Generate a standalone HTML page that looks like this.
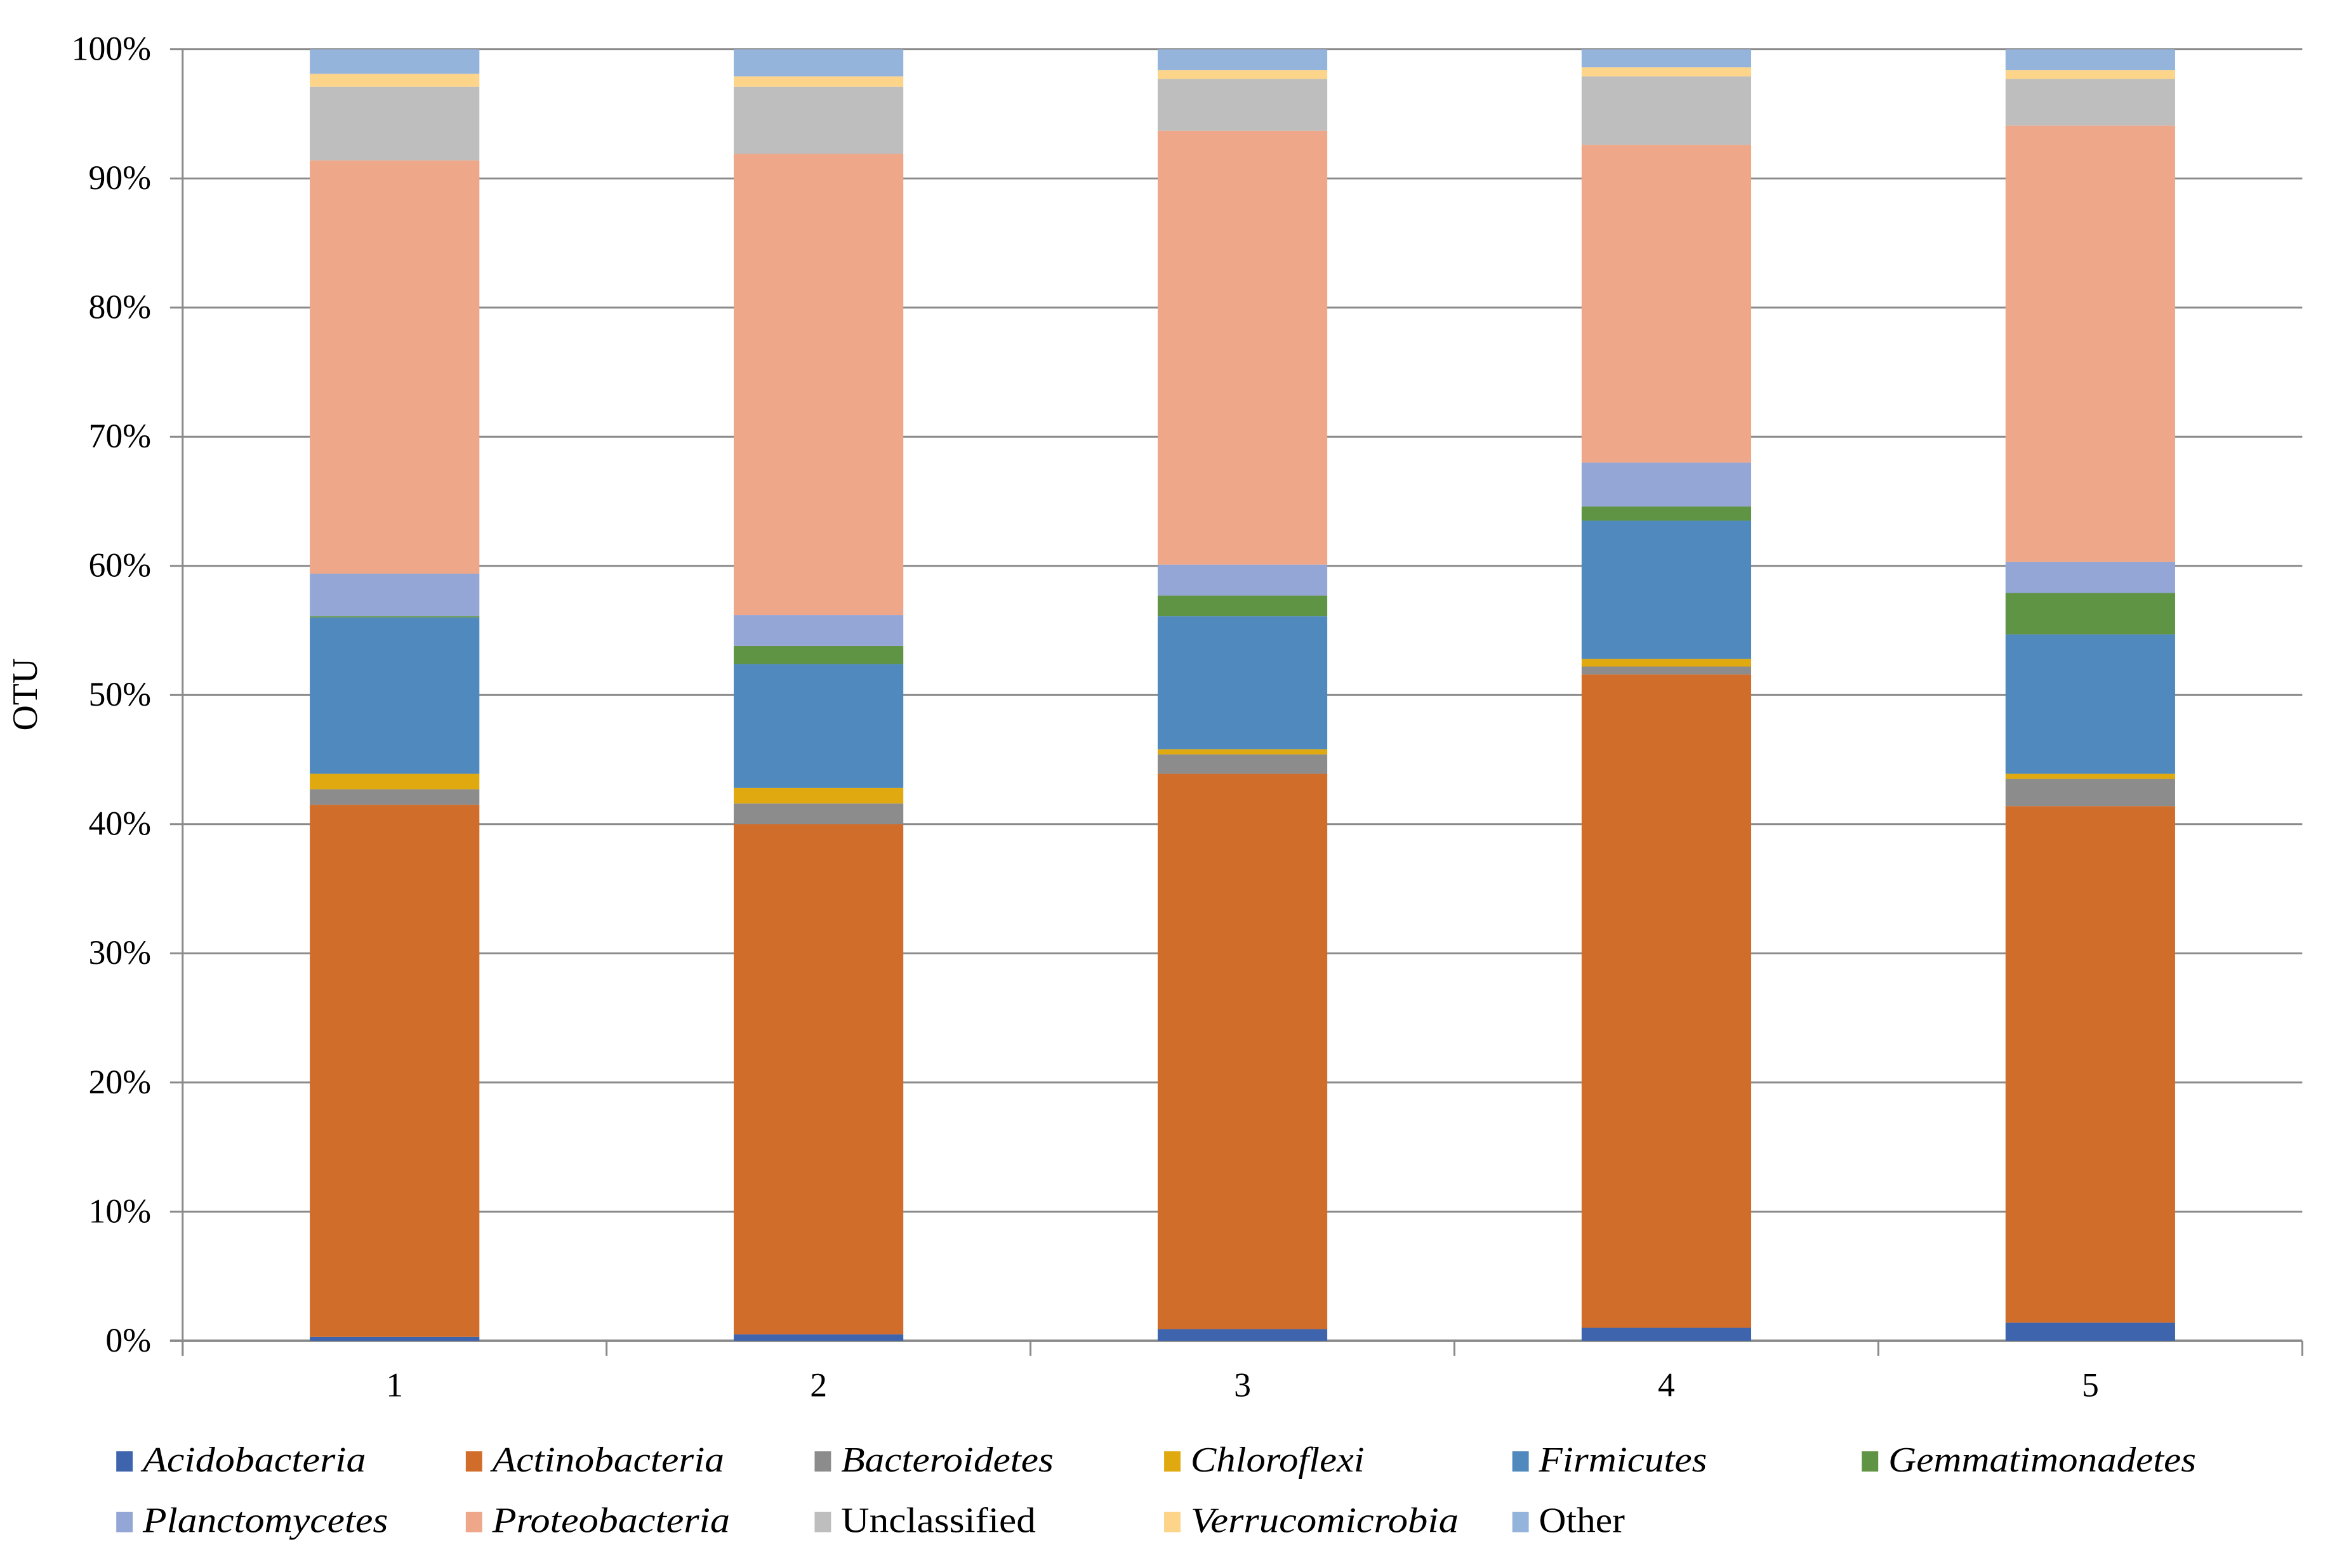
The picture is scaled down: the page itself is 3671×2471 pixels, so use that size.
<!DOCTYPE html>
<html><head><meta charset="utf-8"><style>
html,body{margin:0;padding:0;background:#fff;}
svg{display:block;font-family:"Liberation Serif",serif;}
</style></head><body>
<svg id="chart" width="3671" height="2471" viewBox="0 0 3671 2471" xmlns="http://www.w3.org/2000/svg">
<g transform="scale(0.9957)">
<g id="grid"></g>
<g id="bars"></g>
<g id="axes"></g>
<text x="0" y="0" transform="translate(58,1099) rotate(-90)" text-anchor="middle" font-size="56" fill="#000">OTU</text>
<g id="legend"></g>
</g>
</svg>
<script>
const categories = ["1","2","3","4","5"];
const seriesNames = ["Acidobacteria","Actinobacteria","Bacteroidetes","Chloroflexi","Firmicutes","Gemmatimonadetes","Planctomycetes","Proteobacteria","Unclassified","Verrucomicrobia","Other"];
const seriesItalic = [true,true,true,true,true,true,true,true,false,true,false];
const colors = ["#3d64ad","#d16d2a","#8c8c8c","#e0a90f","#4f89bd","#5f9444","#94a6d6","#eea788","#bebebe","#fcd48a","#95b4dc"];
const acidobacteria   = [0.3,0.5,0.9,1.0,1.4];
const actinobacteria  = [41.2,39.5,43.0,50.6,40.0];
const bacteroidetes   = [1.2,1.6,1.5,0.6,2.1];
const chloroflexi     = [1.2,1.2,0.4,0.6,0.4];
const firmicutes      = [12.1,9.6,10.3,10.7,10.8];
const gemmatimonadetes= [0.1,1.4,1.6,1.1,3.2];
const planctomycetes  = [3.3,2.4,2.4,3.4,2.4];
const proteobacteria  = [32.0,35.7,33.6,24.6,33.8];
const unclassified    = [5.7,5.2,4.0,5.3,3.6];
const verrucomicrobia = [1.0,0.8,0.7,0.7,0.7];
const other           = [1.9,2.1,1.6,1.4,1.6];
const yTicks = [0,10,20,30,40,50,60,70,80,90,100];
const yTickLabels = ["0%","10%","20%","30%","40%","50%","60%","70%","80%","90%","100%"];
const series = [acidobacteria,actinobacteria,bacteroidetes,chloroflexi,firmicutes,gemmatimonadetes,planctomycetes,proteobacteria,unclassified,verrucomicrobia,other];
const legendWidths = [353,367,336,275,266,487,388,376,308,424,136];

const NS="http://www.w3.org/2000/svg";
const L=289,R=3643,T=78,B=2122;
const catW=(R-L)/categories.length, barW=catW*0.4;
function y(v){return B-(v/100)*(B-T);}
function xc(i){return L+catW*(i+0.5);}
function mk(tag,attrs,parent){const e=document.createElementNS(NS,tag);for(const k in attrs)e.setAttribute(k,attrs[k]);parent.appendChild(e);return e;}
const grid=document.getElementById('grid'),bars=document.getElementById('bars'),axes=document.getElementById('axes'),legend=document.getElementById('legend');

yTicks.forEach((t,i)=>{
  const ln=mk('line',{x1:L-20,x2:R,y1:y(t),y2:y(t),stroke:'#8a8a8a','stroke-width':(t===0?4:3)},grid);
  
  
  const tx=mk('text',{x:L-50,y:y(t)+17,'text-anchor':'end','font-size':54,fill:'#000'},axes);
  tx.textContent=yTickLabels[i];
  
  
});
const ax=mk('line',{x1:L,x2:L,y1:T,y2:B+24,stroke:'#8a8a8a','stroke-width':3},axes);


for(let i=0;i<=categories.length;i++){
  const tk=mk('line',{x1:L+catW*i,x2:L+catW*i,y1:B,y2:B+24,stroke:'#8a8a8a','stroke-width':3},axes);
  
  
}
categories.forEach((c,i)=>{
  let cum=0;
  series.forEach((s,j)=>{
    const v=s[i];
    const r=mk('rect',{x:xc(i)-barW/2,y:y(cum+v),width:barW,height:y(cum)-y(cum+v),fill:colors[j]},bars);
    
    
    cum+=v;
  });
  const tx=mk('text',{x:xc(i),y:2210,'text-anchor':'middle','font-size':54,fill:'#000'},axes);
  tx.textContent=c;
  
  
});
const legX=[184,737,1289,1842,2393,2946];
seriesNames.forEach((n,j)=>{
  const row=Math.floor(j/6),col=j%6;
  const ly=row===0?2311:2407;
  const g=mk('g',{},legend);
  
  
  mk('rect',{x:legX[col],y:ly-14,width:26,height:32,fill:colors[j]},g);
  const tx=mk('text',{x:legX[col]+42,y:ly+18,'font-size':56,fill:'#000','font-style':seriesItalic[j]?'italic':'normal',textLength:legendWidths[j],lengthAdjust:'spacingAndGlyphs'},g);
  tx.textContent=n;
});
</script>
</body></html>
